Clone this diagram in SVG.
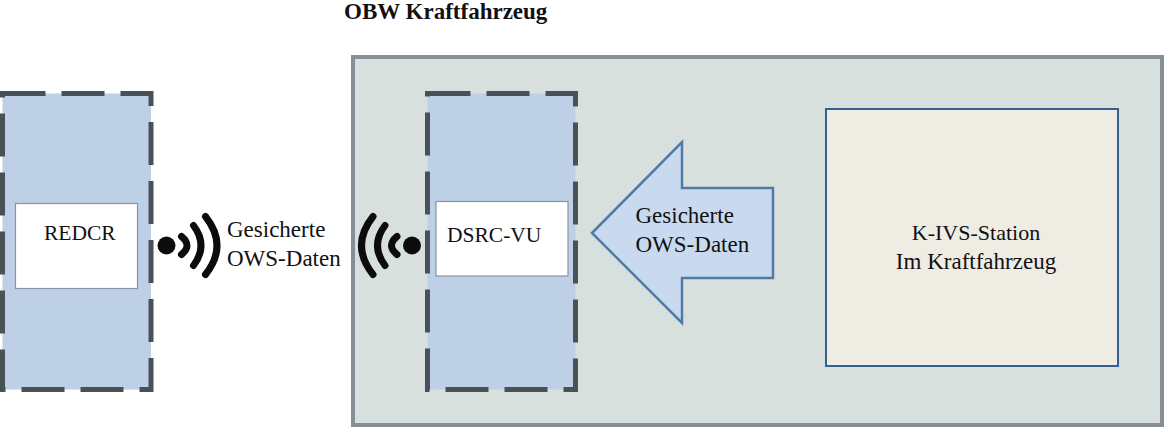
<svg xmlns="http://www.w3.org/2000/svg" width="1164" height="427" viewBox="0 0 1164 427">
  <style>
    text { font-family: "Liberation Serif", "Times New Roman", serif; font-size: 23px; fill: #111; }
    .tag { font-size: 21.500px; }
    .unit { fill: #bdd0e6; stroke: #4a5058; stroke-width: 5; stroke-dasharray: 43 16; }
    .inner { fill: #fff; stroke: #8a94a0; stroke-width: 1.2; }
    .wave { fill: none; stroke: #0c0c0c; stroke-width: 7; stroke-linecap: round; }
  </style>
  <defs>
    <g id="signal">
      <circle cx="0" cy="0" r="9" fill="#0c0c0c"/>
      <path class="wave" d="M15 -9 Q26 0 15 9"/>
      <path class="wave" d="M27 -20 Q42 0 27 20"/>
      <path class="wave" d="M39 -29 Q62 0 39 29"/>
    </g>
  </defs>

  <g id="obw-title"><text x="344" y="19" font-weight="700">OBW Kraftfahrzeug</text></g>

  <g id="obw-frame"><rect x="353" y="57" width="809" height="368" fill="#d8e0dd" stroke="#868e96" stroke-width="4"/></g>

  <g id="redcr">
    <rect class="unit" x="2.500" y="93.500" width="148.500" height="296"/>
    <rect class="inner" x="15.500" y="203.500" width="122" height="85"/>
    <text class="tag" x="44" y="240">REDCR</text>
  </g>

  <g id="dsrc-vu">
    <rect class="unit" x="427.500" y="93.500" width="148" height="296"/>
    <rect class="inner" x="436" y="201.500" width="132" height="74.500"/>
    <text class="tag" x="447" y="242">DSRC-VU</text>
  </g>

  <g id="k-ivs-station">
    <rect x="826" y="109" width="292" height="257" fill="#efece4" stroke="#33618f" stroke-width="2"/>
    <text x="976" y="240" text-anchor="middle" style="font-size:22px">K-IVS-Station</text>
    <text x="976" y="269" text-anchor="middle">Im Kraftfahrzeug</text>
  </g>

  <g id="connectors">
    <g id="data-arrow">
      <polygon points="592,233 682,142 682,188 773,188 773,278 682,278 682,323" fill="#c9daf0" stroke="#4f7ba6" stroke-width="2.500"/>
      <text x="635.500" y="223">Gesicherte</text>
      <text x="635.500" y="252">OWS-Daten</text>
    </g>
    <g id="radio-link">
      <use href="#signal" transform="translate(166.500 245.500)"/>
      <use href="#signal" transform="translate(412 245.500) scale(-1 1)"/>
      <text x="227" y="237">Gesicherte</text>
      <text x="227" y="266">OWS-Daten</text>
    </g>
  </g>
</svg>
